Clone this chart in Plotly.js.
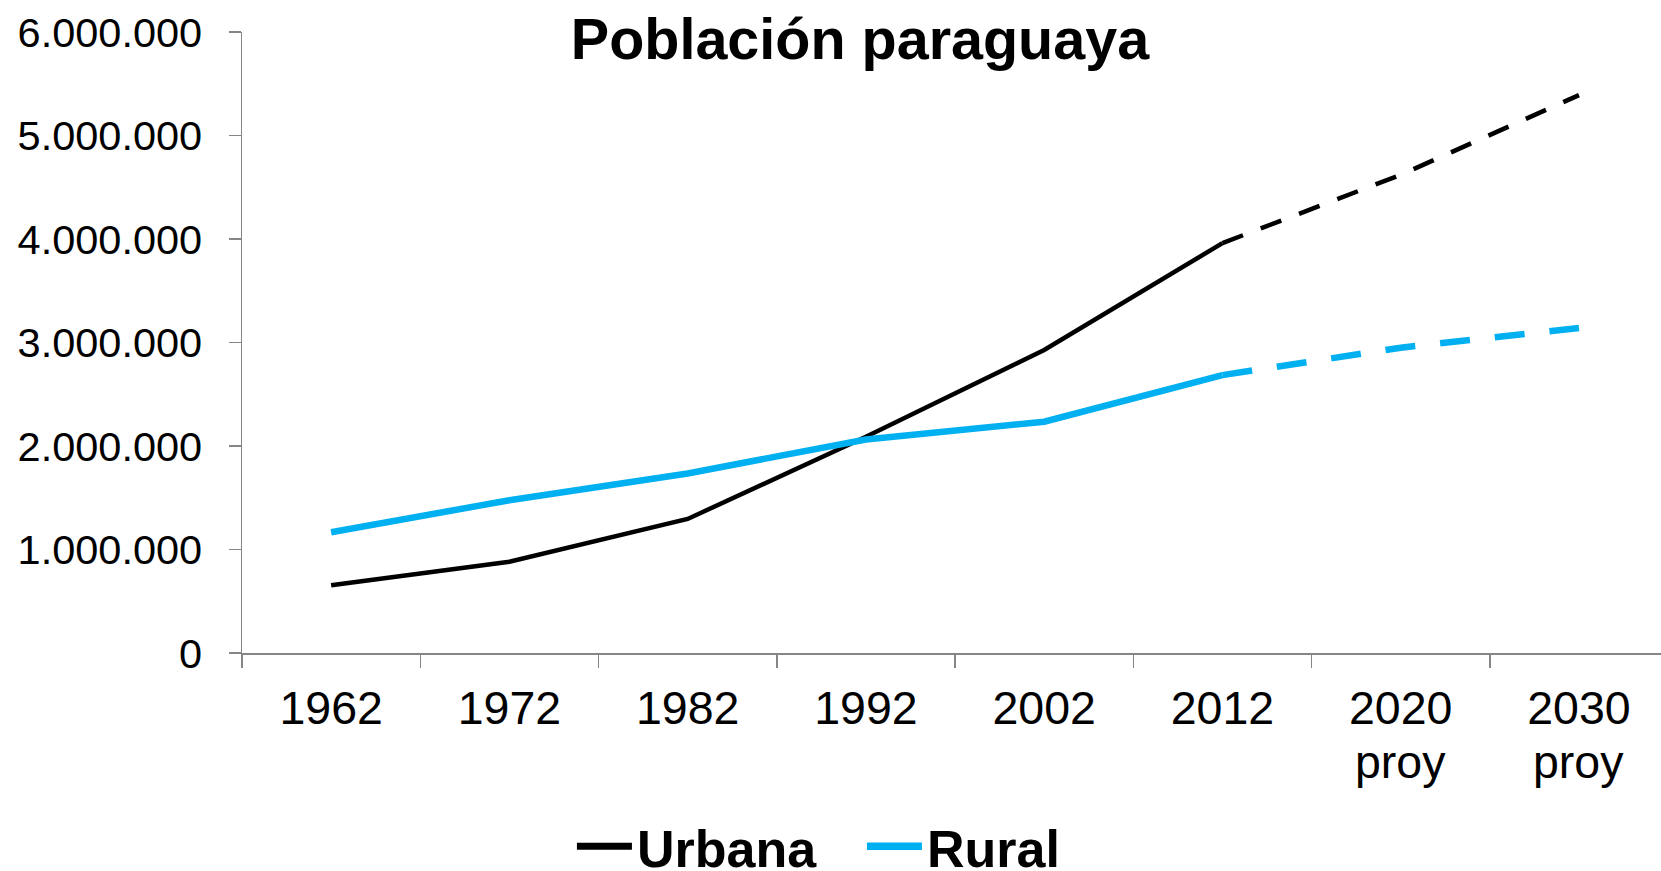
<!DOCTYPE html>
<html>
<head>
<meta charset="utf-8">
<script src="https://cdn.plot.ly/plotly-3.0.1.min.js"></script>
<style>html,body{margin:0;padding:0;background:#fff;}#chart{width:1661px;height:871px;}</style>
</head>
<body>
<div id="chart"></div>
<script>
// ---- data ----
const categories = ['1962', '1972', '1982', '1992', '2002', '2012', '2020', '2030'];
const labelLine2 = ['', '', '', '', '', '', 'proy', 'proy'];
const urbana = [655000, 882000, 1295000, 2090000, 2928000, 3960000, 4620000, 5390000];
const rural  = [1167000, 1476000, 1735000, 2063000, 2235000, 2685000, 2950000, 3140000];
const seriesNames = ['Urbana', 'Rural'];
const projStart = 5; // index of last census (2012); projection lines start here

const FONT = '"Liberation Sans", Arial, sans-serif';
const BLACK = '#000000';
const BLUE = '#00B0F0';
const AXIS = '#868686';

const traces = [
  {x: categories.slice(0, projStart + 1), y: urbana.slice(0, projStart + 1), name: seriesNames[0],
   type: 'scatter', mode: 'lines', line: {color: BLACK, width: 4.5}, showlegend: false},
  {x: categories.slice(projStart), y: urbana.slice(projStart), name: seriesNames[0],
   type: 'scatter', mode: 'lines', line: {color: BLACK, width: 4.5, dash: '22px,19px'}, showlegend: false},
  {x: categories.slice(0, projStart + 1), y: rural.slice(0, projStart + 1), name: seriesNames[1],
   type: 'scatter', mode: 'lines', line: {color: BLUE, width: 6.5}, showlegend: false},
  {x: categories.slice(projStart), y: rural.slice(projStart), name: seriesNames[1],
   type: 'scatter', mode: 'lines', line: {color: BLUE, width: 6.5, dash: '30px,25px'}, showlegend: false},
  // legend keys (no data drawn)
  {x: [null], y: [null], name: seriesNames[0], type: 'scatter', mode: 'lines', line: {color: BLACK, width: 7}},
  {x: [null], y: [null], name: seriesNames[1], type: 'scatter', mode: 'lines', line: {color: BLUE, width: 7.5}}
];

const annotations = [];
categories.forEach((c, i) => {
  if (labelLine2[i]) {
    annotations.push({x: i, xref: 'x', y: 0, yref: 'paper', yanchor: 'top', xanchor: 'center',
      yshift: -81, text: labelLine2[i], showarrow: false, font: {family: FONT, size: 46.5, color: '#000'}});
  }
});

const layout = {
  width: 1661, height: 871,
  paper_bgcolor: '#fff', plot_bgcolor: '#fff',
  separators: ',.',
  margin: {l: 241.7, r: 0, t: 31.7, b: 217.7, pad: 0, autoexpand: false},
  font: {family: FONT, color: '#000'},
  title: {text: 'Población paraguaya', font: {family: FONT, size: 57.5, weight: 'bold', color: '#000'},
    x: 860 / 1661, xref: 'container', xanchor: 'center', y: 1 - 39 / 871, yref: 'container', yanchor: 'middle'},
  xaxis: {type: 'category', range: [-0.5, -0.5 + (1661 - 241.7) / 178.3], showgrid: false, zeroline: false,
    showline: true, linecolor: AXIS, linewidth: 1.5, ticks: 'outside', tickson: 'boundaries',
    ticklen: 13, tickwidth: 1.5, tickcolor: AXIS, tickfont: {family: FONT, size: 46.5, color: '#000'},
    ticklabelstandoff: 14, fixedrange: true},
  yaxis: {range: [0, 6000000], dtick: 1000000, tick0: 0, tickformat: ',d', showgrid: false, zeroline: false,
    showline: true, linecolor: AXIS, linewidth: 1.5, ticks: 'outside', ticklen: 12, tickwidth: 1.5, tickcolor: AXIS,
    tickfont: {family: FONT, size: 41.5, color: '#000'}, ticklabelstandoff: 18, fixedrange: true},
  showlegend: true,
  legend: {orientation: 'h', x: (571.7 - 241.7) / 1419.3, xanchor: 'left', y: (653.3 - 847) / 621.6, yanchor: 'middle',
    font: {family: FONT, size: 52, weight: 'bold', color: '#000'}, itemwidth: 55, bgcolor: 'rgba(0,0,0,0)',
    entrywidth: 220, entrywidthmode: 'pixels', traceorder: 'normal'},
  annotations: annotations
};

Plotly.newPlot('chart', traces, layout, {displayModeBar: false, staticPlot: true});
</script>
</body>
</html>
